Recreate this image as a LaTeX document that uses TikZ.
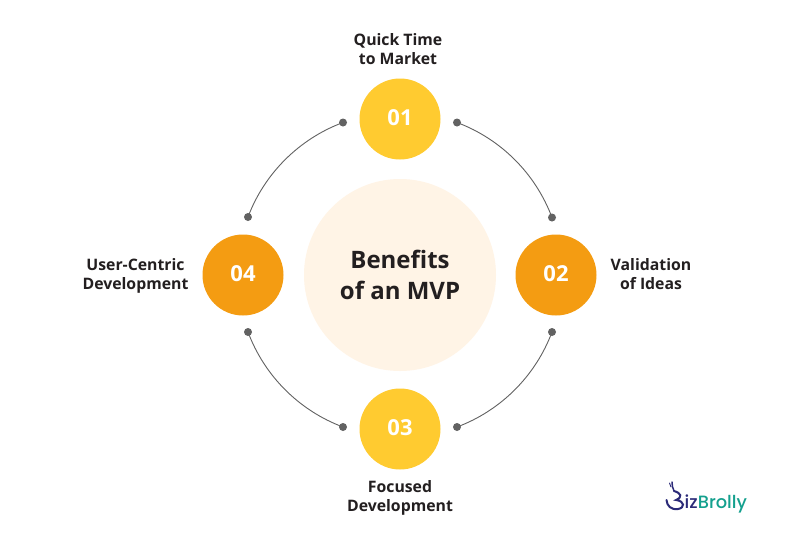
\documentclass[tikz,border=0pt]{standalone}
\usepackage{fontspec}
\setmainfont{Open Sans}
\newfontfamily\logofont{Poppins}[UprightFont=* Medium]
\definecolor{yel}{HTML}{FFCB30}
\definecolor{org}{HTML}{F49C12}
\definecolor{cream}{HTML}{FFF4E6}
\definecolor{ink}{HTML}{231F20}
\definecolor{dotc}{HTML}{626262}
\definecolor{navy}{HTML}{2B2A78}
\definecolor{teal2}{HTML}{14A08E}
\tikzset{
  x=1pt,y=-1pt,
  numc/.style={circle,minimum size=81pt,inner sep=0pt,text=white,text depth=2pt,font=\bfseries\fontsize{22}{24}\selectfont},
  lab/.style={text=ink,align=center,inner sep=0pt,font=\bfseries\fontsize{15.8}{19}\selectfont},
  dotn/.style={circle,fill=dotc,minimum size=8pt,inner sep=0pt},
  arcl/.style={draw=dotc,line width=0.9pt,bend left=24.5,looseness=0.89},
}
\begin{document}
\begin{tikzpicture}
\useasboundingbox (0,0) rectangle (801,550);
\fill[white] (0,0) rectangle (801,550);
\node[circle,fill=cream,minimum size=192pt,inner sep=0pt,text=ink,align=center,font=\bfseries\fontsize{24}{31}\selectfont] (center) at (400,275) {Benefits\\of an MVP};
\node[numc,fill=yel] (n1) at (400,119) {01};
\node[numc,fill=org] (n2) at (556,275) {02};
\node[numc,fill=yel] (n3) at (400,429) {03};
\node[numc,fill=org] (n4) at (243,275) {04};
\node[lab] (l1) at (398,49) {Quick Time\\to Market};
\node[lab] (l2) at (651,274) {Validation\\of Ideas};
\node[lab] (l3) at (400,498) {Focused\\Development};
\node[lab] (l4) at (135.5,276) {User-Centric\\Development};
\node[dotn] (a1) at (457,122.5) {};
\node[dotn] (a2) at (552,217.5) {};
\node[dotn] (b1) at (552,332) {};
\node[dotn] (b2) at (457,427) {};
\node[dotn] (c1) at (343,427) {};
\node[dotn] (c2) at (248,332) {};
\node[dotn] (d1) at (248,217) {};
\node[dotn] (d2) at (343,122.5) {};
\draw[arcl] (a1.center) to (a2.center);
\draw[arcl] (b1.center) to (b2.center);
\draw[arcl] (c1.center) to (c2.center);
\draw[arcl] (d1.center) to (d2.center);
% logo
\draw[navy,line width=2pt,line cap=round] (674,491) .. controls (681,493) and (683,497) .. (676,500) .. controls (685,501) and (685,508) .. (678,509) .. controls (671,510) and (667,506) .. (666.5,500);
\draw[navy,line width=1.5pt,line cap=round] (674,491) .. controls (672.5,488) and (672,485) .. (672,482);
\draw[navy,line width=0.9pt,line cap=round] (669.5,483) -- (671,487);
\node[anchor=base west,inner sep=0pt,font=\logofont\fontsize{17.8}{18}\selectfont] (logo) at (684.5,508) {\textcolor{navy}{iz}\textcolor{teal2}{Brolly}};
\end{tikzpicture}
\end{document}
